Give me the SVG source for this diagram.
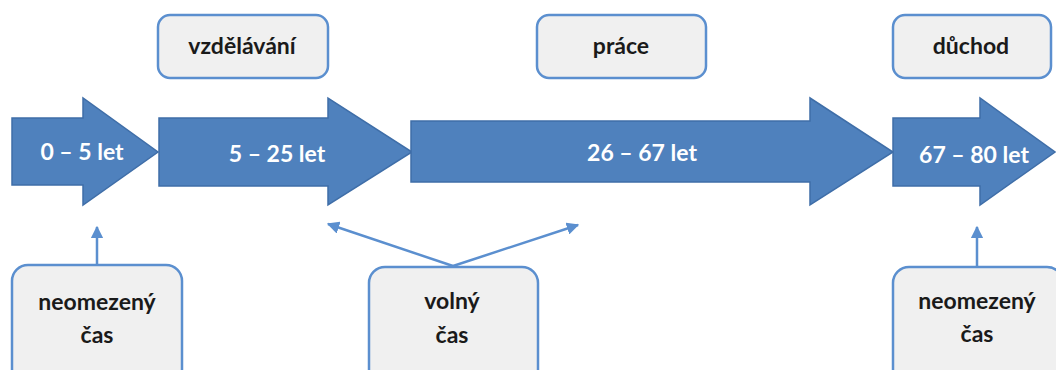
<svg xmlns="http://www.w3.org/2000/svg" width="1056" height="370" viewBox="0 0 1056 370">
  <style>
    .stage { fill: #4f81bd; stroke: #3f6ea8; stroke-width: 1.5; }
    .stage-label { font-family: Lato, "Open Sans", sans-serif; font-weight: 700; font-size: 23px; fill: #ffffff; text-anchor: middle; }
    .box { fill: #f0f0f0; stroke: #5b8fcf; stroke-width: 2.5; }
    .box-label { font-family: Lato, "Open Sans", sans-serif; font-weight: 700; font-size: 23px; fill: #1a1a1a; text-anchor: middle; }
    .link { stroke: #5b8fcf; stroke-width: 2.5; fill: none; marker-end: url(#tip); }
  </style>
  <defs>
    <marker id="tip" viewBox="0 0 10 10" refX="9" refY="5" markerWidth="5" markerHeight="5" orient="auto" markerUnits="strokeWidth">
      <path d="M0,0 L10,5 L0,10 Z" fill="#5b8fcf"/>
    </marker>
  </defs>

  <!-- life stages as block arrows -->
  <g id="stage-0-5">
    <path class="stage" d="M12,118 H83 V98 L158,152 L83,205 V185 H12 Z"/>
    <text class="stage-label" x="82" y="160">0 – 5 let</text>
  </g>
  <g id="stage-5-25">
    <path class="stage" d="M159,118 H328 V98 L412,152 L328,205 V186 H159 Z"/>
    <text class="stage-label" x="277" y="162">5 – 25 let</text>
  </g>
  <g id="stage-26-67">
    <path class="stage" d="M411,121 H810 V98 L893,152 L810,205 V182 H411 Z"/>
    <text class="stage-label" x="642" y="161">26 – 67 let</text>
  </g>
  <g id="stage-67-80">
    <path class="stage" d="M893,118 H980 V98 L1055,152 L980,205 V186 H893 Z"/>
    <text class="stage-label" x="974" y="163">67 – 80 let</text>
  </g>

  <!-- activity labels above -->
  <g id="label-vzdelavani">
    <rect class="box" x="158" y="15" width="170" height="63" rx="12"/>
    <text class="box-label" x="242" y="54">vzdělávání</text>
  </g>
  <g id="label-prace">
    <rect class="box" x="537" y="15" width="169" height="63" rx="12"/>
    <text class="box-label" x="621" y="54">práce</text>
  </g>
  <g id="label-duchod">
    <rect class="box" x="893" y="15" width="158" height="63" rx="12"/>
    <text class="box-label" x="971" y="54">důchod</text>
  </g>

  <!-- time type boxes below -->
  <g id="time-unlimited-left">
    <rect class="box" x="12" y="265" width="170" height="120" rx="16"/>
    <text class="box-label" x="97" y="310">neomezený</text>
    <text class="box-label" x="97" y="343">čas</text>
  </g>
  <g id="time-free">
    <rect class="box" x="369" y="267" width="169" height="120" rx="16"/>
    <text class="box-label" x="452" y="309">volný</text>
    <text class="box-label" x="452" y="343">čas</text>
  </g>
  <g id="time-unlimited-right">
    <rect class="box" x="893" y="267" width="170" height="120" rx="16"/>
    <text class="box-label" x="977" y="309">neomezený</text>
    <text class="box-label" x="977" y="342">čas</text>
  </g>

  <!-- connectors -->
  <g id="connectors">
    <line class="link" x1="97" y1="265" x2="97" y2="227"/>
    <line class="link" x1="453" y1="266" x2="328" y2="224"/>
    <line class="link" x1="453" y1="266" x2="578" y2="225"/>
    <line class="link" x1="977" y1="267" x2="977" y2="227"/>
  </g>
</svg>
